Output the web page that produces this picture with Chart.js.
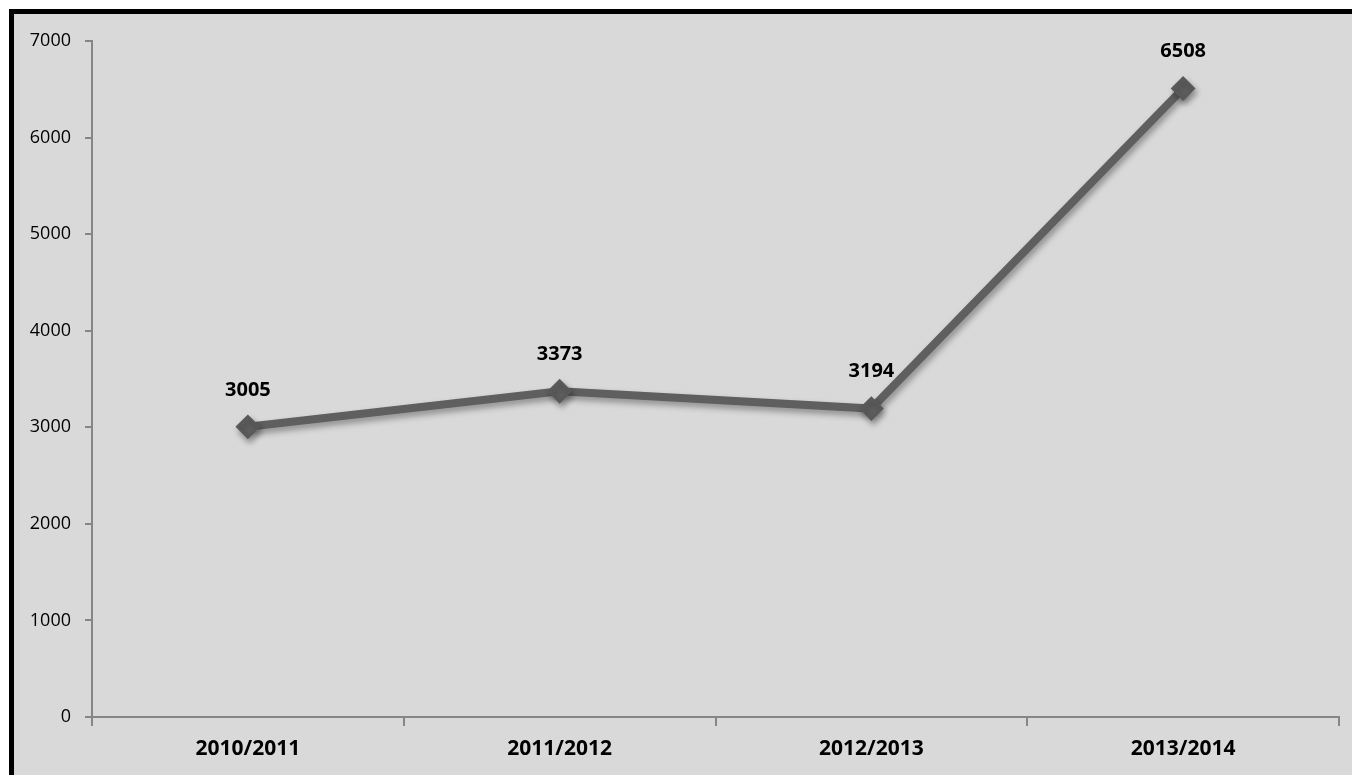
<!DOCTYPE html>
<html>
<head>
<meta charset="utf-8">
<script src="https://cdn.jsdelivr.net/npm/chart.js@4/dist/chart.umd.min.js"></script>
<style>
    html, body { margin: 0; padding: 0; background: #ffffff; overflow: hidden; }
    #frame {
        position: absolute; left: 9px; top: 9px; width: 1400px; height: 800px;
        border-left: 5px solid #000; border-top: 5px solid #000;
        background: #d9d9d9;
    }
    #wrap { position: absolute; left: 0; top: 0; width: 1352px; height: 775px; }
</style>
</head>
<body>
<div id="frame"></div>
<div id="wrap"><canvas id="lineChart"></canvas></div>
<script>
// ============================================
// LINE CHART - SEASON TOTALS
// ============================================

const seasons = ['2010/2011', '2011/2012', '2012/2013', '2013/2014'];
const totals = [3005, 3373, 3194, 6508];
const yTicks = [0, 1000, 2000, 3000, 4000, 5000, 6000, 7000];

const AXIS_COLOR = '#868686';
const LINE_COLOR = '#5f5f5f';

// soft drop shadow under the line and markers
const shadowPlugin = {
    id: 'lineShadow',
    beforeDatasetsDraw(chart) {
        const ctx = chart.ctx;
        ctx.save();
        ctx.shadowColor = 'rgba(0, 0, 0, 0.35)';
        ctx.shadowBlur = 6;
        ctx.shadowOffsetX = 2;
        ctx.shadowOffsetY = 4;
    },
    afterDatasetsDraw(chart) {
        chart.ctx.restore();
    }
};

// value labels above each point
const valueLabels = {
    id: 'valueLabels',
    afterDraw(chart) {
        const ctx = chart.ctx;
        const meta = chart.getDatasetMeta(0);
        ctx.save();
        ctx.font = 'bold 20px "Open Sans", sans-serif';
        ctx.fillStyle = '#000';
        ctx.textAlign = 'center';
        ctx.textBaseline = 'middle';
        meta.data.forEach((pt, i) => {
            ctx.fillText(String(totals[i]), pt.x, pt.y - 37);
        });
        ctx.restore();
    }
};

new Chart(document.getElementById('lineChart'), {
    type: 'line',
    data: {
        labels: seasons,
        datasets: [{
            data: totals,
            borderColor: LINE_COLOR,
            borderWidth: 8,
            backgroundColor: LINE_COLOR,
            pointStyle: 'rectRot',
            pointRadius: 11,
            pointBorderWidth: 2,
            pointBorderColor: '#595959',
            pointBackgroundColor: LINE_COLOR,
            tension: 0,
            fill: false
        }]
    },
    options: {
        responsive: true,
        maintainAspectRatio: false,
        animation: false,
        layout: { padding: { left: 0, right: 8, top: 41, bottom: 0 } },
        plugins: {
            legend: { display: false },
            tooltip: { enabled: false }
        },
        scales: {
            x: {
                offset: true,
                grid: {
                    offset: true,
                    drawOnChartArea: false,
                    drawTicks: true,
                    tickLength: 9,
                    color: AXIS_COLOR,
                    lineWidth: 2
                },
                border: { display: true, color: AXIS_COLOR, width: 2 },
                ticks: {
                    padding: 10,
                    color: '#000',
                    font: { family: '"Open Sans", sans-serif', size: 21, weight: 'bold' }
                },
                afterFit(scale) { scale.height = 58; }
            },
            y: {
                min: 0,
                max: 7000,
                afterBuildTicks(scale) { scale.ticks = yTicks.map(v => ({ value: v })); },
                grid: {
                    drawOnChartArea: false,
                    drawTicks: true,
                    tickLength: 7,
                    color: AXIS_COLOR,
                    lineWidth: 2
                },
                border: { display: true, color: AXIS_COLOR, width: 2 },
                ticks: {
                    padding: 14,
                    color: '#000',
                    font: { family: '"Open Sans", sans-serif', size: 18 },
                    callback: (value) => String(value)
                },
                afterFit(scale) { scale.width = 92; }
            }
        }
    },
    plugins: [shadowPlugin, valueLabels]
});
</script>
</body>
</html>
